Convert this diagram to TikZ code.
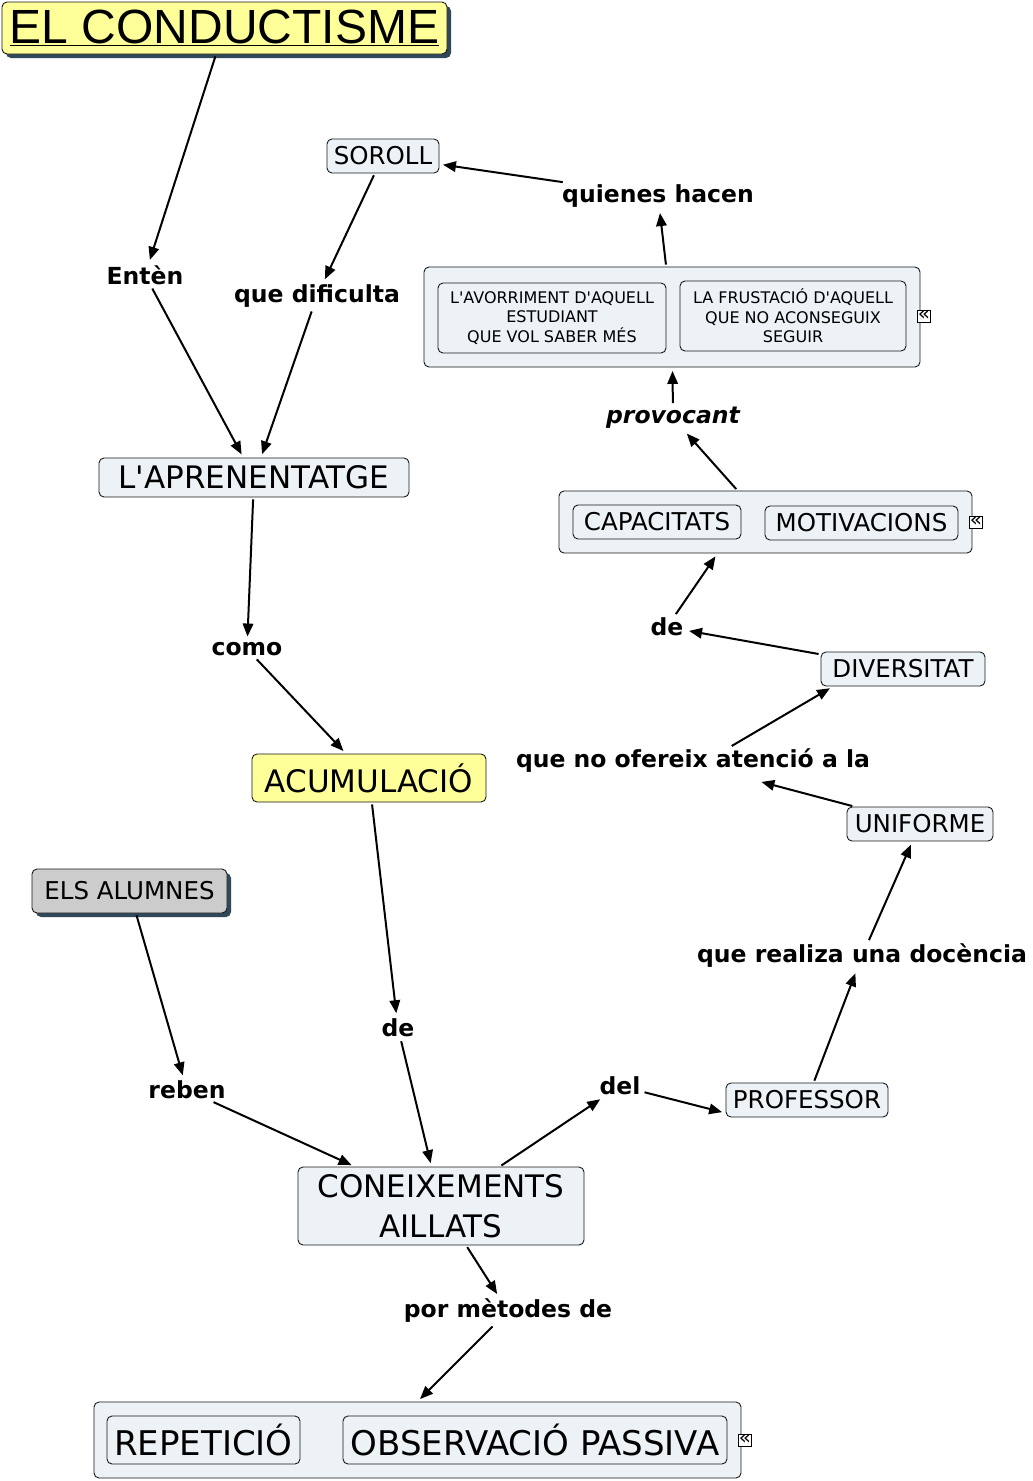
\documentclass[tikz,border=0pt]{standalone}
\usepackage{fontspec}
\setmainfont{DejaVu Sans}
\newfontfamily\arialf{Liberation Sans}
\usetikzlibrary{arrows.meta,shadows}
\definecolor{nodefill}{RGB}{236,242,245}
\definecolor{yel}{RGB}{255,255,153}
\definecolor{grayfill}{RGB}{204,204,204}
\definecolor{shadowc}{RGB}{47,72,90}
\definecolor{bordc}{RGB}{25,25,25}
\begin{document}
\begin{tikzpicture}[x=1pt,y=-1pt,
 concept/.style={draw=bordc, line width=0.9pt, rounded corners=5pt, fill=nodefill, inner sep=0pt, align=center, font=\fontsize{24.5}{28}\selectfont},
 shadowed/.style={drop shadow={shadow xshift=4pt, shadow yshift=-4pt, fill=shadowc, opacity=1}},
 lbl/.style={font=\fontsize{23.5}{28}\selectfont\bfseries, inner sep=2pt},
 link/.style={line width=2pt, -{Triangle[length=13pt,width=10.5pt]}, shorten >=3.5pt, shorten <=2pt},
 icon/.style={draw, fill=white, line width=0.8pt, minimum size=12pt, inner sep=0pt, text height=9pt, text depth=1pt, font=\fontsize{20}{20}\selectfont}
]
\useasboundingbox[fill=white] (0,0) rectangle (1033,1481);

% concepts
\node[concept, shadowed, fill=yel, minimum width=445pt, minimum height=52pt, font=\arialf\fontsize{48}{52}\selectfont] (title) at (224.5,28) {\underline{EL CONDUCTISME}};
\node[concept, minimum width=112pt, minimum height=34pt] (soroll) at (383,156) {SOROLL};
\node[concept, minimum width=310pt, minimum height=39pt, font=\fontsize{31}{34}\selectfont] (lapr) at (254,477.5) {L\textquotesingle APRENENTATGE};
\node[concept, fill=yel, minimum width=234pt, minimum height=48pt, font=\fontsize{31}{34}\selectfont] (acum) at (369,778) {ACUMULACIÓ};
\node[concept, minimum width=164pt, minimum height=34pt] (div) at (903,669) {DIVERSITAT};
\node[concept, minimum width=146pt, minimum height=34pt] (unif) at (920,824) {UNIFORME};
\node[concept, shadowed, fill=grayfill, minimum width=195pt, minimum height=44pt] (alumnes) at (129.5,891) {ELS ALUMNES};
\node[concept, minimum width=162pt, minimum height=34pt] (prof) at (807,1100) {PROFESSOR};
\node[concept, minimum width=286pt, minimum height=78pt, font=\fontsize{31}{40}\selectfont] (coneix) at (441,1206) {CONEIXEMENTS\\AILLATS};

% grouped boxes
\node[concept, minimum width=496pt, minimum height=100pt] (box1) at (672,317) {};
\node[concept, minimum width=228pt, minimum height=70pt, font=\fontsize{16}{19.5}\selectfont] (avorr) at (552,318) {L\textquotesingle AVORRIMENT D\textquotesingle AQUELL\\ESTUDIANT\\QUE VOL SABER MÉS};
\node[concept, minimum width=226pt, minimum height=70pt, font=\fontsize{16}{19.5}\selectfont] (frust) at (793,316) {LA FRUSTACIÓ D\textquotesingle AQUELL\\QUE NO ACONSEGUIX\\SEGUIR};
\node[icon] (ic1) at (924,316) {«};

\node[concept, minimum width=413pt, minimum height=62pt] (box2) at (765.5,522) {};
\node[concept, minimum width=168pt, minimum height=34pt] (capac) at (657,522) {CAPACITATS};
\node[concept, minimum width=193pt, minimum height=34pt] (motiv) at (861.5,523) {MOTIVACIONS};
\node[icon] (ic2) at (976,522) {«};

\node[concept, minimum width=647pt, minimum height=76pt] (box3) at (417.5,1440) {};
\node[concept, minimum width=193pt, minimum height=48pt, font=\fontsize{34}{36}\selectfont] (repet) at (203.5,1440) {REPETICIÓ};
\node[concept, minimum width=384pt, minimum height=48pt, font=\fontsize{34}{36}\selectfont] (obs) at (535,1440) {OBSERVACIÓ PASSIVA};
\node[icon] (ic3) at (745,1440) {«};

% labels
\node[lbl] (enten) at (145,275) {Entèn};
\node[lbl] (quedif) at (317,296) {que dificulta};
\node[lbl] (quienes) at (658,196) {quienes hacen};
\node[lbl, font=\fontsize{23.5}{28}\selectfont\bfseries\itshape] (provocant) at (673,418) {provocant};
\node[lbl] (de1) at (667,627) {de};
\node[lbl] (como) at (247,649) {como};
\node[lbl] (qno) at (693,761) {que no ofereix atenció a la};
\node[lbl] (realiza) at (862,956) {que realiza una docència};
\node[lbl] (de2) at (398,1028) {de};
\node[lbl] (reben) at (187,1090) {reben};
\node[lbl] (del) at (620,1086) {del};
\node[lbl] (pormet) at (508,1311) {por mètodes de};

% connectors
\draw[link] (title) -- (enten);
\draw[link] (enten) -- (lapr);
\draw[link] (soroll) -- (quedif);
\draw[link] (quedif) -- (lapr);
\draw[link] (box1) -- (quienes);
\draw[link] (quienes) -- (soroll);
\draw[link] (box2) -- (provocant);
\draw[link] (provocant) -- (box1);
\draw[link] (div) -- (de1);
\draw[link] (de1) -- ([xshift=-48pt]box2.south);
\draw[link] (lapr) -- (como);
\draw[link] (como) -- (acum);
\draw[link] (acum) -- (de2);
\draw[link] (de2) -- (coneix);
\draw[link] (alumnes) -- (reben);
\draw[link] (reben) -- (coneix);
\draw[link] (coneix) -- (del);
\draw[link] (del) -- ([yshift=-13pt]prof.west);
\draw[link] (prof) -- (realiza);
\draw[link] (realiza) -- (unif);
\draw[link] (unif) -- ([xshift=65pt,yshift=-6pt]qno.south);
\draw[link] ([xshift=37pt]qno.north) -- ([xshift=-70pt]div.south);
\draw[link] (coneix) -- (pormet);
\draw[link] (pormet) -- (box3.north);
\end{tikzpicture}
\end{document}
